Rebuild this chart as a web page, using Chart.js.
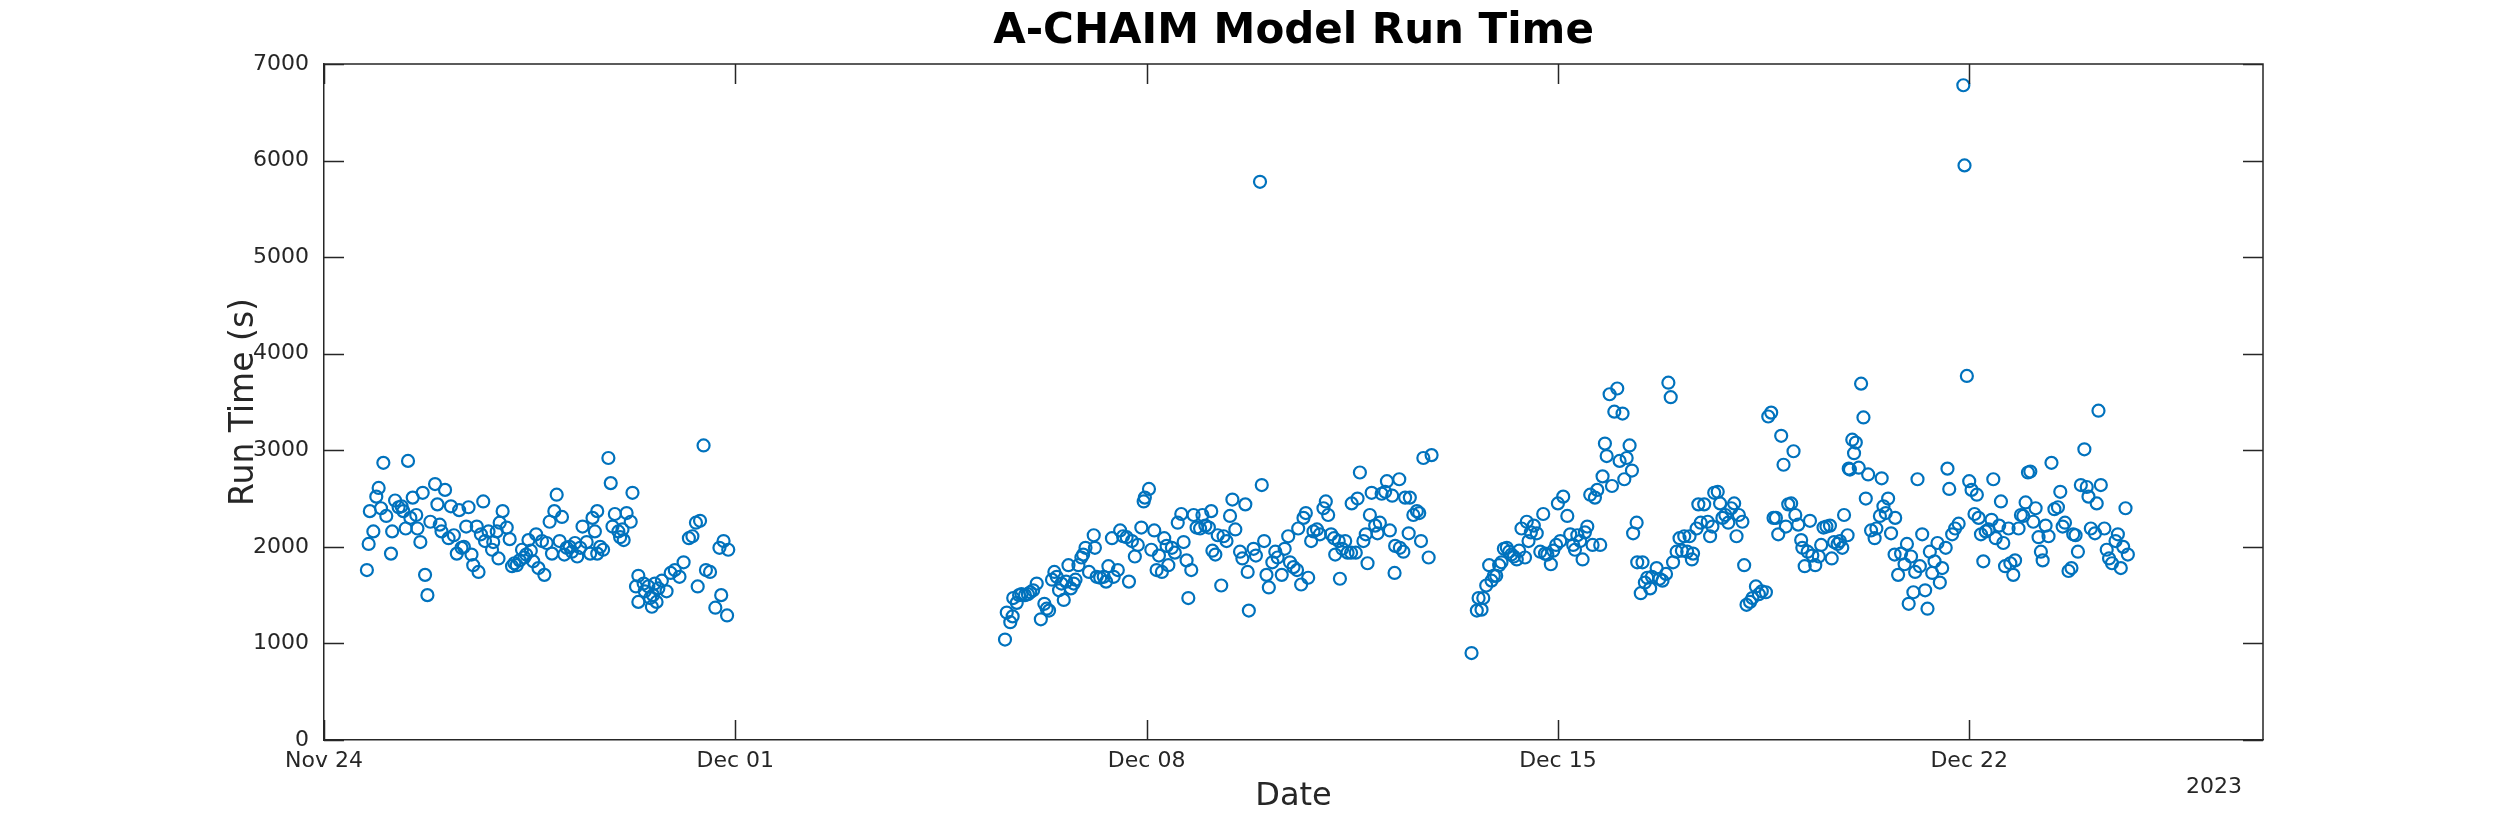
<!DOCTYPE html>
<html>
<head>
<meta charset="utf-8">
<title>A-CHAIM Model Run Time</title>
<script src="https://cdn.jsdelivr.net/npm/chart.js@4.4.1/dist/chart.umd.min.js"></script>
<style>
    body { margin: 0; background: #ffffff; }
    canvas { display: block; }
</style>
</head>
<body>
<canvas id="runChart" width="2500" height="833"></canvas>
<script>
// days since Nov 24 2022 00:00 and the model run time in seconds
const runDays = [
    0.73, 0.76, 0.84, 0.78, 0.89, 0.93, 1.01, 0.97, 1.06, 1.14, 1.16, 1.21, 1.27, 1.32, 1.35, 1.39,
    1.43, 1.47, 1.51, 1.57, 1.59, 1.64, 1.68, 1.72, 1.76, 1.81, 1.89, 1.93, 1.97, 2.00, 2.06, 2.12,
    2.16, 2.21, 2.26, 2.30, 2.34, 2.38, 2.42, 2.46, 2.51, 2.54, 2.60, 2.63, 2.67, 2.71, 2.74, 2.80,
    2.86, 2.88, 2.94, 2.97, 2.99, 3.04, 3.11, 3.16, 3.20, 3.24, 3.28, 3.33, 3.37, 3.41, 3.44, 3.48,
    3.52, 3.56, 3.61, 3.65, 3.71, 3.75, 3.79, 3.84, 3.88, 3.92, 3.96, 4.01, 4.05, 4.09, 4.13, 4.18,
    4.22, 4.27, 4.31, 4.36, 4.40, 4.47, 4.53, 4.57, 4.61, 4.65,
    4.84, 4.88, 5.25, 4.70, 4.75, 4.65, 4.95, 4.91, 5.15, 5.22, 5.01, 5.08, 5.10, 5.04, 5.35, 5.31,
    5.44, 5.52, 5.63, 5.55, 5.35, 5.58, 5.66, 5.46, 5.60, 5.69,
    5.75, 5.83, 5.90, 5.97, 6.05, 6.12, 6.21, 6.27, 6.33, 6.40, 6.46, 6.36, 6.50, 6.57, 6.66, 6.73,
    6.80, 6.76, 6.86, 6.88,
    11.59, 11.62, 11.68, 11.72, 11.73, 11.79, 11.83, 11.87, 11.93, 11.98, 12.02, 12.07, 12.13, 12.20,
    12.26, 12.30, 12.34, 12.39, 12.43, 12.47, 12.51, 12.55, 12.59, 12.63, 12.67, 12.71, 12.76, 12.79,
    12.84, 12.89, 12.92, 12.96, 13.02, 13.10, 13.12, 13.15, 13.21, 13.27, 13.31, 13.35, 13.41, 13.44,
    13.51, 13.55, 13.60, 13.66, 13.70, 13.75, 13.80, 13.85, 13.91, 13.95, 13.97, 14.04, 14.08, 14.13,
    14.17, 14.21, 14.26, 14.30, 14.34, 14.37, 14.43, 14.48, 14.53, 14.59, 14.63, 14.68, 14.71, 14.76,
    14.80, 14.85, 14.91, 14.95, 15.00, 15.06, 15.10, 15.12, 15.17, 15.21, 15.27, 15.31, 15.36, 15.42,
    15.46, 15.51, 15.93,
    15.68, 15.59, 15.63, 15.72, 15.74, 15.82, 15.86, 15.96, 16.00, 16.04, 16.08, 16.14, 16.19, 16.23,
    16.30, 16.35, 16.41, 16.44, 16.50, 16.56, 16.58, 16.63, 16.67, 16.71, 16.75, 16.80, 16.84, 16.90,
    16.95, 17.01, 17.05, 17.09, 17.14, 17.19, 17.21, 17.27, 17.29, 17.33, 17.38, 17.42, 17.48, 17.49,
    17.56, 17.59, 17.63, 17.69, 17.73, 17.76, 17.80, 17.83, 17.89, 17.93, 17.97, 18.00, 18.06, 18.09,
    18.14, 18.18, 18.22, 18.23, 18.30, 18.31, 18.37, 18.40, 18.46, 18.48, 18.54, 18.60, 18.64, 18.67,
    18.71, 18.80, 18.85,
    19.53, 19.62, 19.70, 19.65, 19.73, 19.78, 19.83, 19.87, 19.91, 19.95, 20.00, 20.04, 20.08, 20.13,
    20.17, 20.21, 20.25, 20.30, 20.34, 20.38, 20.44, 20.47, 20.50, 20.54, 20.59, 20.64, 20.70, 20.75,
    20.78, 20.82, 20.88, 20.92, 20.97, 21.00, 21.04, 21.09, 21.16, 21.21, 21.26, 21.29, 21.33, 21.38,
    21.42, 21.46, 21.50, 21.55, 21.59, 21.63, 21.67, 21.72, 21.76, 21.80, 21.83, 21.88, 21.92, 21.96,
    22.01, 22.05, 22.10, 22.13, 22.17, 22.22, 22.26, 22.28, 22.34, 22.35, 22.44, 22.41, 22.48, 22.52,
    22.57, 22.60, 22.68, 22.73, 22.78, 22.84, 22.88, 22.92, 22.96, 23.02, 23.07, 23.11, 23.15, 23.20,
    23.24, 23.28, 23.30, 23.36, 23.39,
    23.49, 23.43, 23.55, 23.59, 23.63, 23.66, 23.72, 23.76, 23.80, 23.85, 23.90, 23.95, 24.00, 24.04,
    24.08, 24.14, 24.17, 24.21, 24.27, 24.31, 24.37, 24.42, 24.47, 24.54, 24.58, 24.63, 24.67, 24.71,
    24.75, 24.80, 24.84, 24.88, 24.92, 24.97, 25.01, 25.04, 25.09, 25.14, 25.16, 25.20, 25.25, 25.29,
    25.33, 25.38, 25.44, 25.48, 25.52, 25.57, 25.63, 25.66, 25.70, 25.76, 25.80, 25.84, 25.87, 25.93,
    25.97, 26.01, 26.07, 26.04, 25.95, 26.12, 26.16, 26.20, 26.24, 26.28, 26.33, 26.39, 26.42, 26.48,
    26.51, 26.54, 26.58, 26.62, 26.67, 26.74, 26.73, 26.79, 26.84, 26.90, 26.94, 26.97, 27.01, 27.05,
    27.08, 27.12, 27.16, 27.20, 27.25, 27.29, 27.33, 27.37, 27.41,
    27.46, 27.50, 27.54, 27.60, 27.63, 27.66, 27.71, 27.76, 27.82, 27.90, 27.92, 27.96, 28.00, 28.04,
    28.09, 28.13, 28.16, 28.20, 28.24, 28.28, 28.33, 28.38, 28.41, 28.45, 28.51, 28.54, 28.58, 28.61,
    28.67, 28.70, 28.75, 28.78, 28.84, 28.88, 28.92, 28.96, 29.00, 29.04, 29.09, 29.13, 29.18, 29.22,
    29.25, 29.30, 29.35, 29.40, 29.45, 29.51, 29.55, 29.59, 29.63, 29.69, 29.74, 29.77, 29.81, 29.85,
    29.90, 29.96, 30.00, 30.03, 30.07, 30.14, 30.17, 30.20, 30.24, 30.30, 30.34, 30.38, 30.43, 30.49,
    30.53, 30.58, 30.62, 30.66, 30.70
];

const runSeconds = [
    1760, 2030, 2160, 2370, 2520, 2610, 2870, 2400, 2320, 1930, 2160, 2480, 2410, 2420, 2370, 2190,
    2890, 2300, 2510, 2330, 2190, 2050, 2560, 1710, 1500, 2260, 2650, 2440, 2230, 2160, 2590, 2090,
    2420, 2120, 1930, 2380, 1990, 2000, 2210, 2410, 1920, 1810, 2210, 1740, 2130, 2470, 2060, 2160,
    1970, 2050, 2160, 1880, 2250, 2370, 2200, 2080, 1800, 1830, 1810, 1860, 1970, 1890, 1920, 2070,
    1960, 1850, 2130, 1780, 2060, 1710, 2040, 2260, 1930, 2370, 2540, 2060, 2310, 1920, 1990, 2000,
    1950, 2040, 1900, 1990, 2210, 2050, 1930, 2300, 2160, 2370,
    2920, 2660, 2560, 2000, 1970, 1930, 2340, 2210, 2350, 2260, 2160, 2180, 2070, 2100, 1700, 1590,
    1620, 1590, 1620, 1470, 1430, 1380, 1430, 1540, 1500, 1570,
    1650, 1540, 1730, 1760, 1690, 1840, 2090, 2110, 2250, 2270, 3050, 1590, 1760, 1740, 1370, 1990,
    2060, 1500, 1290, 1970,
    1040, 1320, 1220, 1280, 1470, 1420, 1500, 1510, 1500, 1510, 1530, 1550, 1620, 1250,
    1410, 1360, 1340, 1660, 1740, 1690, 1550, 1620, 1450, 1640, 1810, 1570, 1620, 1660,
    1810, 1890, 1920, 1990, 1740, 2120, 1990, 1690, 1680, 1690, 1640, 1800, 2090, 1690,
    1760, 2170, 2110, 2100, 1640, 2060, 1900, 2020, 2200, 2470, 2510, 2600, 1970, 2170,
    1760, 1910, 1740, 2090, 2010, 1810, 1990, 1940, 2250, 2340, 2050, 1860, 1470, 1760,
    2330, 2200, 2190, 2330, 2220, 2200, 2370, 1960, 1920, 2120, 1600, 2110, 2060, 2320,
    2490, 2180, 5780,
    2440, 1950, 1880, 1740, 1340, 1980, 1910, 2640, 2060, 1710, 1580, 1840, 1950, 1890,
    1710, 1980, 2110, 1840, 1790, 1760, 2190, 1610, 2300, 2350, 1680, 2060, 2160, 2180,
    2130, 2400, 2470, 2330, 2130, 2090, 1920, 2060, 1670, 1980, 2060, 1940, 1940, 2450,
    1940, 2500, 2770, 2060, 2130, 1830, 2330, 2560, 2220, 2140, 2250, 2550, 2570, 2680,
    2170, 2530, 1730, 2010, 2700, 1990, 1950, 2510, 2140, 2510, 2330, 2370, 2350, 2060,
    2920, 1890, 2950,
    900, 1340, 1350, 1470, 1470, 1600, 1810, 1650, 1700, 1700, 1810, 1840, 1980, 1990,
    1950, 1920, 1900, 1870, 1960, 2190, 1890, 2260, 2060, 2150, 2220, 2140, 1950, 2340,
    1930, 1920, 1820, 1960, 2020, 2450, 2060, 2520, 2320, 2130, 2020, 1970, 2120, 2060,
    1870, 2150, 2210, 2540, 2020, 2510, 2590, 2020, 2730, 3070, 2940, 3580, 2630, 3400,
    3640, 2890, 3380, 2700, 2920, 3050, 2790, 2140, 2250, 1840, 1840, 1520, 1630, 1680,
    1570, 1690, 1780, 1670, 1650, 1720, 3700, 3550, 1840, 1950, 2090, 1960, 2110, 1950,
    2110, 1870, 1930, 2190, 2440,
    2440, 2250, 2260, 2110, 2210, 2560, 2570, 2450, 2300, 2330, 2250, 2400, 2450, 2110,
    2330, 2260, 1810, 1400, 1430, 1470, 1590, 1510, 1540, 1530, 3350, 3390, 2300, 2300,
    2130, 3150, 2850, 2210, 2440, 2450, 2990, 2330, 2230, 2070, 1990, 1800, 1950, 2270,
    1910, 1810, 1900, 2020, 2200, 2210, 2220, 1880, 2050, 2030, 2060, 1990, 2330, 2120,
    2800, 3110, 3080, 2970, 2810, 2820, 3690, 3340, 2500, 2750, 2170, 2090, 2190, 2320,
    2710, 2420, 2350, 2500, 2140, 2300, 1920, 1710, 1930, 1820, 2030, 1410, 1900, 1530,
    1740, 2700, 1800, 2130, 1550, 1360, 1950, 1730, 1850,
    2040, 1630, 1780, 1990, 2810, 2600, 2130, 2190, 2240, 6780, 5950, 3770, 2680, 2590,
    2340, 2540, 2300, 2130, 1850, 2160, 2180, 2280, 2700, 2090, 2220, 2470, 2040, 1800,
    2190, 1830, 1710, 1860, 2190, 2330, 2320, 2460, 2770, 2780, 2260, 2400, 2100, 1950,
    1860, 2220, 2110, 2870, 2390, 2410, 2570, 2210, 2250, 1750, 1780, 2130, 2120, 1950,
    2640, 3010, 2620, 2520, 2190, 2140, 2450, 3410, 2640, 2190, 1970, 1880, 1830, 2060,
    2130, 1780, 2000, 2400, 1920
];

// x axis: day offsets of the date ticks and their labels
const tickDays = [0, 7, 14, 21, 28];
const tickLabels = ['Nov 24', 'Dec 01', 'Dec 08', 'Dec 15', 'Dec 22'];
const yearLabel = '2023';

const axisColor = '#262626';
const markerColor = '#0072BD';

Chart.defaults.font.family = "'DejaVu Sans', sans-serif";

// MATLAB style box: top/right edges and inward tick marks on all four sides
const boxTicksPlugin = {
    id: 'boxTicks',
    afterDraw(chart) {
        const ctx = chart.ctx;
        const { left, right, top, bottom } = chart.chartArea;
        const xScale = chart.scales.x;
        const yScale = chart.scales.y;
        const len = 20;
        ctx.save();
        ctx.strokeStyle = axisColor;
        ctx.lineWidth = 1.5;
        ctx.beginPath();
        ctx.moveTo(left, top);
        ctx.lineTo(right, top);
        ctx.lineTo(right, bottom);
        xScale.ticks.forEach(t => {
            const px = Math.round(xScale.getPixelForValue(t.value)) + 0.5;
            ctx.moveTo(px, bottom);
            ctx.lineTo(px, bottom - len);
            ctx.moveTo(px, top);
            ctx.lineTo(px, top + len);
        });
        yScale.ticks.forEach(t => {
            const py = Math.round(yScale.getPixelForValue(t.value)) + 0.5;
            ctx.moveTo(left, py);
            ctx.lineTo(left + len, py);
            ctx.moveTo(right, py);
            ctx.lineTo(right - len, py);
        });
        ctx.stroke();

        ctx.fillStyle = axisColor;
        ctx.font = "22px 'DejaVu Sans'";
        ctx.textAlign = 'right';
        ctx.textBaseline = 'middle';
        ctx.fillText(yearLabel, right - 21, bottom + 47);
        ctx.restore();
    }
};

const points = runDays.map((d, i) => ({ x: d, y: runSeconds[i] }));

new Chart(document.getElementById('runChart'), {
    type: 'scatter',
    data: {
        datasets: [{
            label: 'Run Time',
            data: points,
            pointStyle: 'circle',
            pointRadius: 6,
            borderWidth: 2.2,
            borderColor: markerColor,
            backgroundColor: 'rgba(0, 0, 0, 0)'
        }]
    },
    options: {
        responsive: false,
        animation: false,
        devicePixelRatio: 1,
        layout: { padding: { left: 0, right: 237, top: 0, bottom: 0 } },
        plugins: {
            legend: { display: false },
            tooltip: { enabled: false },
            title: {
                display: true,
                fullSize: false,
                text: 'A-CHAIM Model Run Time',
                color: '#000000',
                font: { size: 42, weight: 'bold' },
                padding: { top: 7, bottom: 6.6 }
            }
        },
        scales: {
            x: {
                type: 'linear',
                min: 0,
                max: 33,
                afterBuildTicks: scale => {
                    scale.ticks = tickDays.map(v => ({ value: v }));
                },
                afterFit: scale => { scale.height = 93; },
                ticks: {
                    autoSkip: false,
                    maxRotation: 0,
                    padding: 0,
                    color: axisColor,
                    font: { size: 22 },
                    callback: value => tickLabels[tickDays.indexOf(value)]
                },
                grid: { display: false },
                border: { display: true, color: axisColor, width: 1.5 },
                title: {
                    display: true,
                    text: 'Date',
                    color: axisColor,
                    font: { size: 32 },
                    padding: { top: 0, bottom: 17 }
                }
            },
            y: {
                min: 0,
                max: 7000,
                afterFit: scale => { scale.width = 324; },
                ticks: {
                    stepSize: 1000,
                    padding: 7,
                    color: axisColor,
                    font: { size: 22 },
                    callback: value => String(value)
                },
                grid: { display: false },
                border: { display: true, color: axisColor, width: 1.5 },
                title: {
                    display: true,
                    text: 'Run Time (s)',
                    color: axisColor,
                    font: { size: 33 },
                    padding: { top: 225, bottom: 0 }
                }
            }
        }
    },
    plugins: [boxTicksPlugin]
});
</script>
</body>
</html>
